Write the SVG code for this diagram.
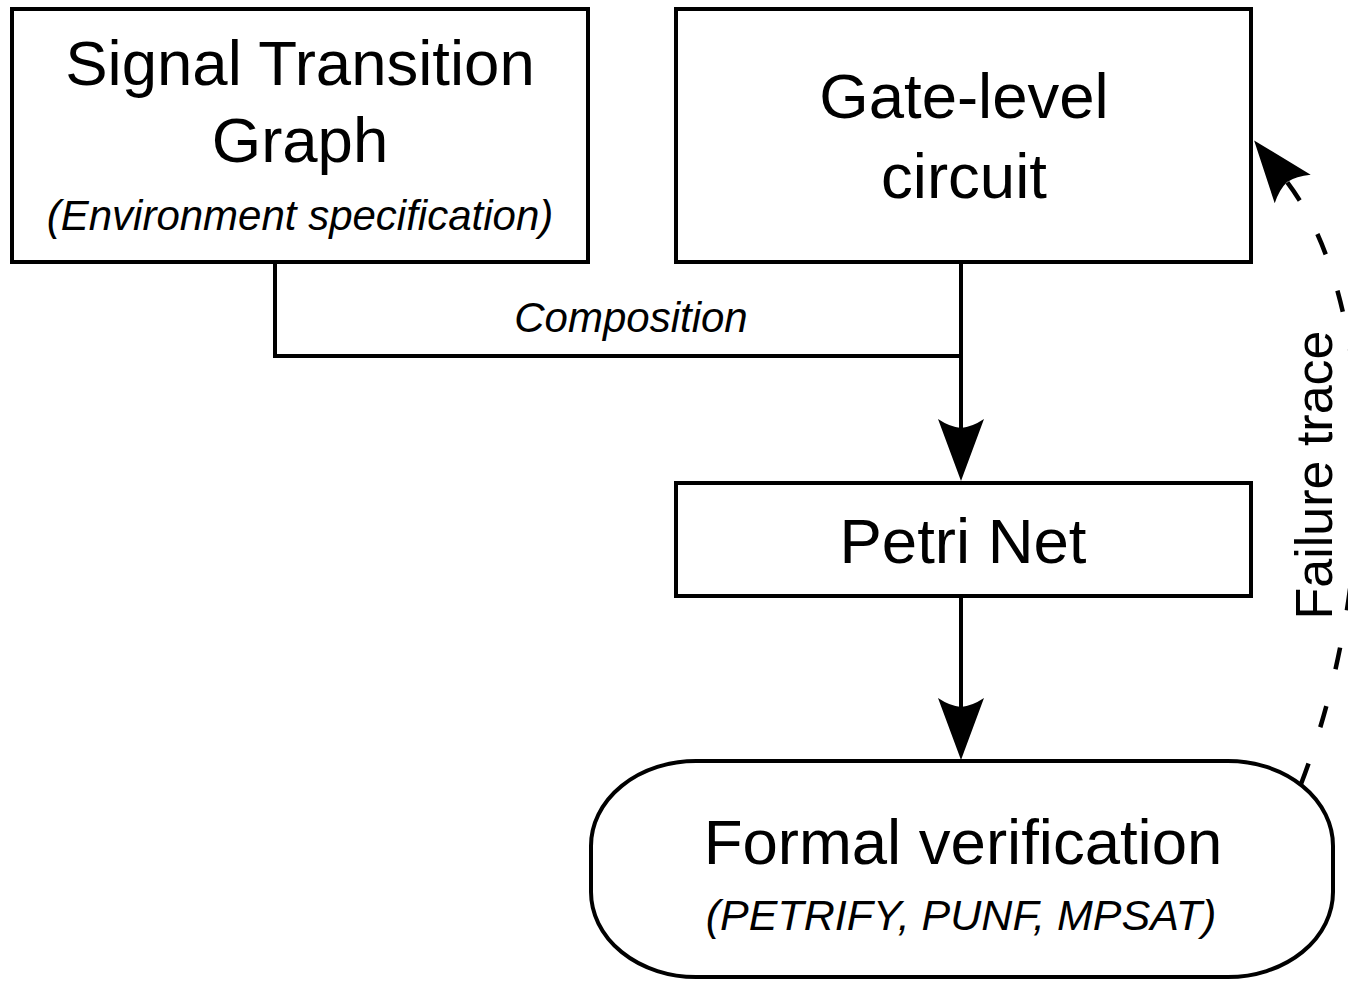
<svg xmlns="http://www.w3.org/2000/svg" width="1348" height="981" viewBox="0 0 1348 981">
  <style>
    .box { fill: #ffffff; stroke: #000000; stroke-width: 4; }
    .wire { fill: none; stroke: #000000; stroke-width: 4; }
    .dashed { stroke-width: 4.5; stroke-dasharray: 22 38; }
    .title { font-family: "Liberation Sans", Arial, sans-serif; font-size: 63.5px; fill: #000000; text-anchor: middle; }
    .note { font-family: "Liberation Sans", Arial, sans-serif; font-size: 42px; font-style: italic; fill: #000000; text-anchor: middle; }
    .side { font-family: "Liberation Sans", Arial, sans-serif; font-size: 52px; fill: #000000; text-anchor: middle; }
  </style>
  <defs>
    <!-- swallow-tail arrowhead; origin sits 5px ahead of the notch -->
    <marker id="head" markerUnits="userSpaceOnUse" markerWidth="80" markerHeight="60"
            viewBox="-15 -30 75 60" refX="5" refY="0" orient="auto" overflow="visible">
      <path d="M53,0 L-9,-23 Q-1,-11 0,0 Q-1,11 -9,23 Z" fill="#000000"/>
    </marker>
  </defs>

  <rect x="0" y="0" width="1348" height="981" fill="#ffffff"/>

  <g id="connectors">
    <!-- composition of the two sources -->
    <polyline class="wire" points="275,262 275,356 961,356"/>
    <line class="wire" x1="961" y1="262" x2="961" y2="433" marker-end="url(#head)"/>
    <!-- Petri net to verification -->
    <line class="wire" x1="961" y1="596" x2="961" y2="712" marker-end="url(#head)"/>
    <!-- failure trace back to the circuit -->
    <path class="wire dashed" d="M1301,784 C1380,578 1381,300 1284,178" marker-end="url(#head)"/>
    <text class="note" x="631" y="332">Composition</text>
    <text class="side" transform="translate(1332,475) rotate(-90)">Failure trace</text>
  </g>

  <g id="stg">
    <rect class="box" x="12" y="9" width="576" height="253"/>
    <text class="title" x="300" y="85">Signal Transition</text>
    <text class="title" x="300" y="162">Graph</text>
    <text class="note" x="300" y="230">(Environment specification)</text>
  </g>

  <g id="circuit">
    <rect class="box" x="676" y="9" width="575" height="253"/>
    <text class="title" x="964" y="118">Gate-level</text>
    <text class="title" x="964" y="198">circuit</text>
  </g>

  <g id="petri-net">
    <rect class="box" x="676" y="483" width="575" height="113"/>
    <text class="title" x="963" y="563">Petri Net</text>
  </g>

  <g id="verification">
    <rect class="box" x="591" y="761" width="742" height="216" rx="105" ry="85"/>
    <text class="title" x="963" y="864">Formal verification</text>
    <text class="note" x="961" y="930" style="font-size:43px">(PETRIFY, PUNF, MPSAT)</text>
  </g>
</svg>
